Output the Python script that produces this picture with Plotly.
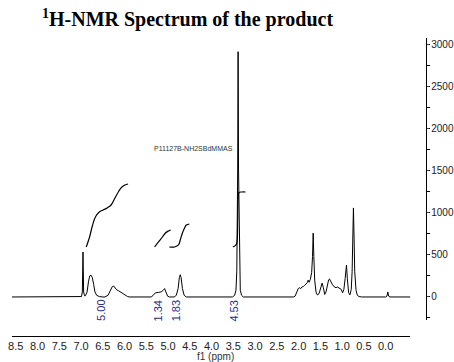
import plotly.graph_objects as go

# ---- data ----
spec_ppm = [8.59, 7.05, 6.99, 6.97, 6.955, 6.94, 6.92, 6.90, 6.86, 6.83, 6.80, 6.77, 6.74, 6.71,
            6.68, 6.64, 6.58, 6.50, 6.45, 6.38, 6.32, 6.28, 6.25, 6.22, 6.18, 6.14, 6.10, 6.06,
            6.02, 5.98, 5.93, 5.88, 5.38, 5.33, 5.28, 5.22, 5.16, 5.11, 5.08, 5.05, 5.01, 4.97,
            4.86, 4.81, 4.77, 4.74, 4.72, 4.70, 4.67, 4.63, 4.58, 3.52, 3.47, 3.44, 3.42, 3.40,
            3.39, 3.38, 3.36, 3.34, 3.31, 3.27, 2.12, 2.08, 2.04, 2.01, 1.98, 1.95, 1.92, 1.89,
            1.86, 1.83, 1.80, 1.78, 1.76, 1.73, 1.70, 1.68, 1.665, 1.65, 1.63, 1.60, 1.57, 1.53,
            1.49, 1.46, 1.43, 1.40, 1.37, 1.34, 1.31, 1.29, 1.26, 1.22, 1.18, 1.14, 1.11, 1.08,
            1.05, 1.02, 0.99, 0.96, 0.93, 0.90, 0.88, 0.85, 0.82, 0.79, 0.77, 0.755, 0.74, 0.725,
            0.71, 0.68, 0.65, 0.61, 0.55, 0.00, -0.03, -0.05, -0.07, -0.10, -0.57]
spec_int = [0, 0, 5, 60, 535, 60, 15, 15, 60, 180, 250, 260, 230, 150,
            60, 20, 5, 0, 0, 20, 80, 125, 130, 105, 85, 75, 60, 50,
            30, 15, 5, 0, 0, 30, 50, 55, 60, 80, 100, 60, 10, 0,
            0, 20, 100, 230, 265, 230, 100, 20, 0, 0, 20, 80, 300, 1500,
            2920, 1500, 300, 80, 20, 0, 0, 10, 60, 100, 110, 100, 120, 125,
            140, 150, 170, 200, 175, 210, 290, 480, 760, 480, 200, 60, 25, 40,
            120, 165, 110, 30, 60, 150, 205, 215, 180, 145, 120, 110, 120, 110,
            105, 90, 50, 90, 220, 380, 220, 50, 25, 90, 300, 700, 1060, 700,
            300, 80, 20, 5, 0, 0, 10, 60, 10, 0, 0]

int1_ppm = [6.88, 6.81, 6.74, 6.67, 6.58, 6.49, 6.40, 6.31, 6.22, 6.13, 6.06, 5.99, 5.92]
int1_val = [595, 702, 845, 952, 1012, 1036, 1060, 1095, 1179, 1262, 1310, 1333, 1345]
int2_ppm = [5.31, 5.22, 5.13, 5.06, 4.99, 4.94]
int2_val = [595, 655, 714, 762, 786, 798]
int3_ppm = [4.97, 4.85, 4.76, 4.72, 4.67, 4.62, 4.58, 4.51]
int3_val = [595, 595, 619, 679, 762, 821, 857, 869]
int4_ppm = [3.51, 3.45, 3.42, 3.40, 3.385, 3.37, 3.30, 3.22]
int4_val = [595, 615, 640, 900, 1200, 1245, 1250, 1250]

int_labels = ["5.00", "1.34", "1.83", "4.53"]
int_label_ppm = [6.54, 5.24, 4.83, 3.49]

x_ticks = [8.5, 8.0, 7.5, 7.0, 6.5, 6.0, 5.5, 5.0, 4.5, 4.0, 3.5, 3.0, 2.5, 2.0, 1.5, 1.0, 0.5, 0.0]
y_ticks = [0, 500, 1000, 1500, 2000, 2500, 3000]

title_text = "<b><sup>1</sup>H-NMR Spectrum of the product</b>"
sample_name = "P11127B-NH2SBdMMAS"

NARROW = "Liberation Sans Narrow, Arial Narrow, Liberation Sans, sans-serif"

fig = go.Figure()
fig.add_trace(go.Scatter(x=spec_ppm, y=spec_int, mode="lines",
                         line=dict(color="black", width=1), hoverinfo="skip"))
for xs, ys in [(int1_ppm, int1_val), (int2_ppm, int2_val), (int3_ppm, int3_val), (int4_ppm, int4_val)]:
    fig.add_trace(go.Scatter(x=xs, y=ys, mode="lines", line=dict(color="black", width=1.2, shape="spline"),
                             hoverinfo="skip"))

for lab, xp in zip(int_labels, int_label_ppm):
    fig.add_annotation(x=xp, y=-165, xref="x", yref="y", text=lab, showarrow=False, textangle=-90,
                       font=dict(family=NARROW, size=11, color="#2b2b8c"))

fig.add_annotation(x=4.42, y=1762, xref="x", yref="y", text=sample_name, showarrow=False,
                   font=dict(family=NARROW, size=7, color="#333333"))

fig.add_annotation(x=36 / 454, y=1.065, xref="paper", yref="paper", text=title_text, showarrow=False,
                   xanchor="left", yanchor="middle",
                   font=dict(family="Liberation Serif, Times New Roman, serif", size=20, color="black"))

fig.add_annotation(x=213 / 454, y=-0.07, xref="paper", yref="paper", text="f1 (ppm)", showarrow=False,
                   xanchor="center", yanchor="middle",
                   font=dict(family=NARROW, size=10, color="#333333"))

fig.update_layout(
    width=454, height=362,
    margin=dict(l=0, r=0, t=38, b=26),
    paper_bgcolor="white", plot_bgcolor="white",
    showlegend=False,
    xaxis=dict(domain=[8 / 454, 410 / 454], range=[8.588, -0.569], anchor="free", position=0,
               showline=True, linecolor="black", linewidth=1, ticks="", showgrid=False, zeroline=False,
               tickvals=x_ticks, ticktext=[f"{v:.1f}" for v in x_ticks],
               tickfont=dict(family=NARROW, size=11, color="#222222")),
    yaxis=dict(domain=[16 / 298, 1], range=[-274, 3083], anchor="free", position=426 / 454, side="right",
               showline=True, linecolor="black", linewidth=1, showgrid=False, zeroline=False,
               ticks="outside", ticklen=2, tickvals=y_ticks,
               minor=dict(ticks="outside", ticklen=3, dtick=250, tickcolor="black"),
               tickfont=dict(family=NARROW, size=10, color="#222222")),
)

fig.write_html("out.html", config={"displayModeBar": False},
               post_script="document.body.style.margin='0px';document.body.style.overflow='hidden';")
